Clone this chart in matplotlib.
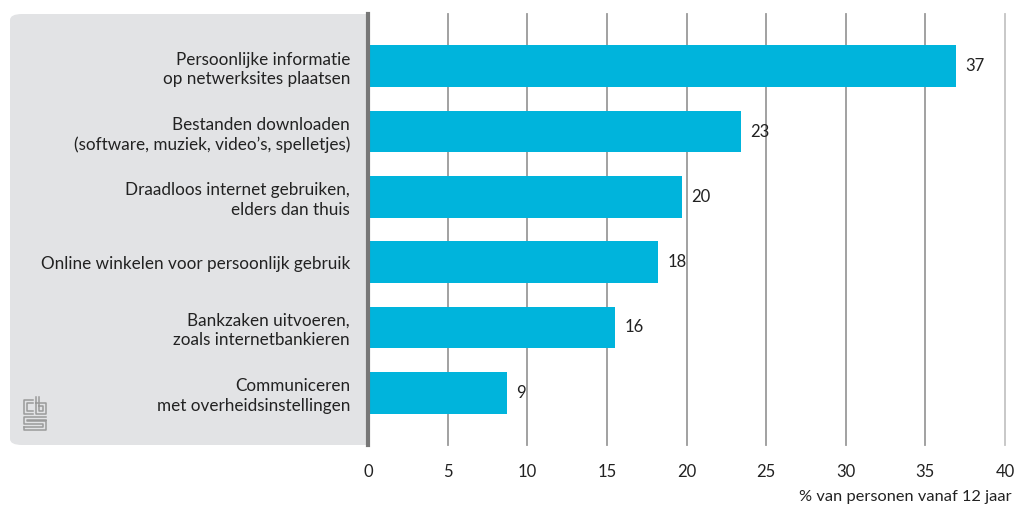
import numpy as np
import matplotlib
matplotlib.use("Agg")
import matplotlib.pyplot as plt
from matplotlib.patches import FancyBboxPatch, Rectangle

# Data
labels = [
    "Persoonlijke informatie\nop netwerksites plaatsen",
    "Bestanden downloaden\n(software, muziek, video\u2019s, spelletjes)",
    "Draadloos internet gebruiken,\nelders dan thuis",
    "Online winkelen voor persoonlijk gebruik",
    "Bankzaken uitvoeren,\nzoals internetbankieren",
    "Communiceren\nmet overheidsinstellingen",
]
values = [36.9, 23.4, 19.7, 18.2, 15.5, 8.7]
value_labels = ["37", "23", "20", "18", "16", "9"]
xticks = [0, 5, 10, 15, 20, 25, 30, 35, 40]

plt.rcParams['font.family'] = ['Lato', 'DejaVu Sans']

W, H = 1014, 505
fig = plt.figure(figsize=(W / 100, H / 100), dpi=100)

def fx(x):
    return x / W

def fy(y):
    return 1 - y / H

# grey label panel (rounded on the left, square on the right)
panel_col = '#e2e3e5'
panel = FancyBboxPatch((fx(10), fy(445)), fx(366) - fx(10), fy(14) - fy(445),
                       boxstyle="round,pad=0,rounding_size=0.012",
                       transform=fig.transFigure, facecolor=panel_col,
                       edgecolor='none', zorder=-2)
fig.patches.append(panel)
fig.patches.append(Rectangle((fx(330), fy(445)), fx(368) - fx(330), fy(14) - fy(445),
                             transform=fig.transFigure, facecolor=panel_col,
                             edgecolor='none', zorder=-2))

ax = fig.add_axes([fx(368), fy(445), fx(1005) - fx(368), fy(14) - fy(445)])
ax.set_facecolor('none')

y = np.arange(len(values))
ax.barh(y, values, height=0.64, color='#00b4dc', zorder=3)
ax.set_xlim(0, 40)
ax.set_ylim(5.8, -0.8)

for i, (v, t) in enumerate(zip(values, value_labels)):
    ax.text(v + 0.6, i, t, va='center', ha='left', fontsize=12, color='#222222', zorder=4)

for x in xticks[1:]:
    c = '#c4c4c4' if x == 40 else '#9a9a9a'
    ax.axvline(x, color=c, lw=1.3, zorder=1, clip_on=False)
ax.axvline(0, color='#777777', lw=3, zorder=5, clip_on=False)

for s in ax.spines.values():
    s.set_visible(False)
ax.set_xticks(xticks)
ax.set_xticklabels([str(t) for t in xticks], fontsize=12, color='#222222')
ax.tick_params(axis='x', length=0, pad=14)
ax.set_yticks(y)
ax.set_yticklabels(labels, fontsize=12.3, color='#222222', linespacing=1.25)
ax.tick_params(axis='y', length=0, pad=13)

fig.text(fx(1012), fy(497), "% van personen vanaf 12 jaar", ha='right', va='center',
         fontsize=11.8, color='#222222')

# cbs logo (simple outline)
logo = '#9a9a9a'
def line(xs, ys):
    fig.add_artist(plt.Line2D([fx(v) for v in xs], [fy(v) for v in ys],
                              transform=fig.transFigure, color=logo, lw=1.1))
# c
line([33, 24, 24, 33], [400, 400, 414, 414])
line([33, 27, 27, 33], [403, 403, 411, 411])
# b
line([36, 36, 46, 46, 36], [397, 414, 414, 403, 403])
line([39, 39, 43, 43, 39], [397, 411, 411, 406, 406])
# s
line([46, 24, 24, 43, 43, 24], [417, 417, 424, 424, 427, 427])
line([46, 27, 27, 46, 46, 24, 24], [420, 420, 421, 421, 430, 430, 427])

fig.savefig("out.png", dpi=100)
